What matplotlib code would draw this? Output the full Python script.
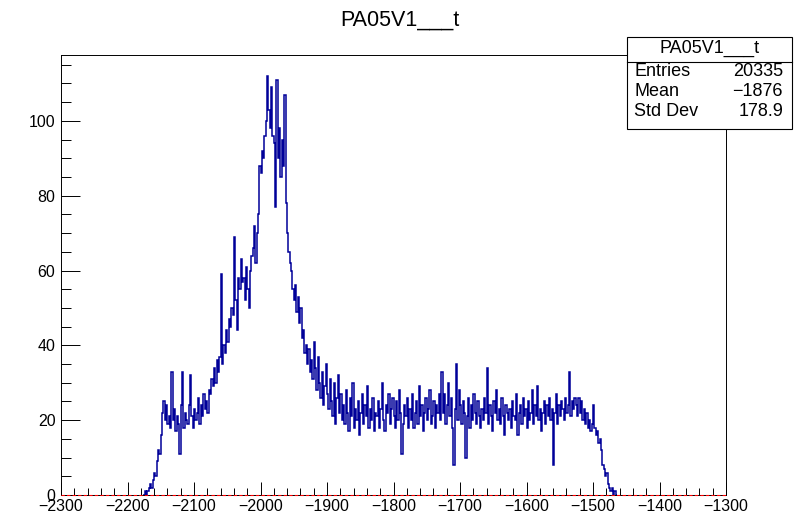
import numpy as np
import matplotlib.pyplot as plt
from matplotlib.patches import Rectangle
from matplotlib.ticker import MultipleLocator

plt.rcParams['font.family'] = ['Liberation Sans', 'DejaVu Sans']

# histogram PA05V1___t, bins of 2 starting at x_start
x_start = -2176
bin_w = 2
counts = [
    0, 1, 0, 1, 2, 3, 2, 4, 6, 5, 9, 12, 11, 16, 22, 25, 20, 24, 19, 21, 18, 33, 20, 23, 17,
    21, 19, 11, 24, 33, 18, 22, 20, 19, 24, 32, 21, 18, 23, 20, 22, 26, 19, 24, 21, 27, 23, 25, 22, 28,
    27, 31, 29, 34, 30, 36, 33, 37, 59, 35, 40, 38, 44, 41, 47, 45, 50, 48, 69, 52, 44, 58, 55, 63, 57,
    58, 52, 61, 55, 50, 60, 64, 66, 72, 62, 70, 75, 88, 86, 92, 90, 96, 100, 112, 103, 98, 109, 96, 94, 77,
    111, 90, 98, 85, 95, 88, 107, 78, 70, 65, 62, 60, 55, 52, 56, 49, 53, 46, 50, 42, 44, 38, 40, 35, 39,
    33, 36, 31, 41, 34, 28, 37, 30, 26, 33, 24, 29, 35, 27, 23, 31, 25, 21, 30, 19, 26, 32, 22, 27, 20,
    24, 19, 28, 22, 17, 26, 21, 30, 18, 23, 20, 25, 16, 22, 27, 19, 24, 21, 29, 18, 23, 20, 26, 17, 22,
    21, 25, 18, 23, 30, 20, 17, 24, 22, 27, 19, 23, 26, 21, 18, 25, 20, 28, 22, 11, 19, 24, 21, 26, 18,
    23, 20, 27, 18, 22, 25, 19, 29, 21, 24, 17, 22, 26, 20, 23, 28, 19, 21, 25, 18, 24, 22, 27, 20, 33,
    22, 27, 19, 24, 30, 21, 26, 18, 8, 23, 35, 20, 28, 24, 19, 25, 22, 10, 21, 26, 18, 24, 20, 27, 22,
    19, 25, 21, 18, 23, 20, 26, 22, 34, 19, 24, 21, 17, 25, 22, 28, 20, 23, 19, 26, 21, 16, 24, 22, 20,
    23, 18, 25, 21, 20, 27, 16, 22, 24, 19, 26, 21, 23, 18, 25, 20, 22, 28, 19, 24, 21, 29, 20, 23, 17,
    22, 25, 19, 24, 21, 26, 20, 23, 8, 22, 27, 19, 24, 21, 25, 23, 20, 26, 22, 24, 33, 21, 25, 23, 26,
    24, 21, 26, 22, 25, 20, 23, 19, 22, 18, 20, 17, 19, 24, 18, 16, 17, 14, 15, 12, 8, 7, 5, 6, 3,
    2, 1, 2, 0, 1, 0,
]

hist_name = 'PA05V1___t'
stats_labels = ['Entries', 'Mean', 'Std Dev']
stats_values = ['20335', '\u22121876', '178.9']

W, H = 799, 517
fig = plt.figure(figsize=(W / 100, H / 100), dpi=100)
ax = fig.add_axes([61 / W, 1 - 495 / H, 665 / W, 440 / H])

edges = x_start + bin_w * np.arange(len(counts) + 1)
ax.stairs(counts, edges, color='#000099', lw=1.1)
ax.axhline(0, color='red', ls=(0, (3, 2)), lw=0.8, zorder=5, clip_on=False)

ax.set_xlim(-2300, -1300)
ax.set_ylim(0, 1.05 * max(counts))

ax.xaxis.set_major_locator(MultipleLocator(100))
ax.xaxis.set_minor_locator(MultipleLocator(20))
ax.yaxis.set_major_locator(MultipleLocator(20))
ax.yaxis.set_minor_locator(MultipleLocator(5))
ax.tick_params(axis='x', which='major', direction='in', length=9.5, width=0.7, labelsize=11.5, pad=3)
ax.tick_params(axis='x', which='minor', direction='in', length=5, width=0.7)
ax.tick_params(axis='y', which='major', direction='in', length=14, width=0.7, labelsize=11.5, pad=4)
ax.tick_params(axis='y', which='minor', direction='in', length=7, width=0.7)
for s in ax.spines.values():
    s.set_linewidth(0.7)

# title
fig.text(400 / W, 1 - 20 / H, hist_name, ha='center', va='center', fontsize=15.5)

# stats box
bx0, bx1, by0, by1 = 627, 792, 37, 129
fig.patches.append(Rectangle((bx0 / W, 1 - by1 / H), (bx1 - bx0) / W, (by1 - by0) / H,
                             transform=fig.transFigure, facecolor='white',
                             edgecolor='black', lw=0.8, zorder=10))
fig.add_artist(plt.Line2D([bx0 / W, bx1 / W], [1 - 62 / H, 1 - 62 / H],
                          transform=fig.transFigure, color='black', lw=0.8, zorder=11))
fig.text((bx0 + bx1) / 2 / W, 1 - 48 / H, hist_name, ha='center', va='center', fontsize=13, zorder=12)
for i, (lab, val) in enumerate(zip(stats_labels, stats_values)):
    yy = 1 - (72 + 20 * i) / H
    fig.text(634 / W, yy, lab, ha='left', va='center', fontsize=13, zorder=12)
    fig.text(783 / W, yy, val, ha='right', va='center', fontsize=13, zorder=12)

fig.savefig('out.png', dpi=100)
